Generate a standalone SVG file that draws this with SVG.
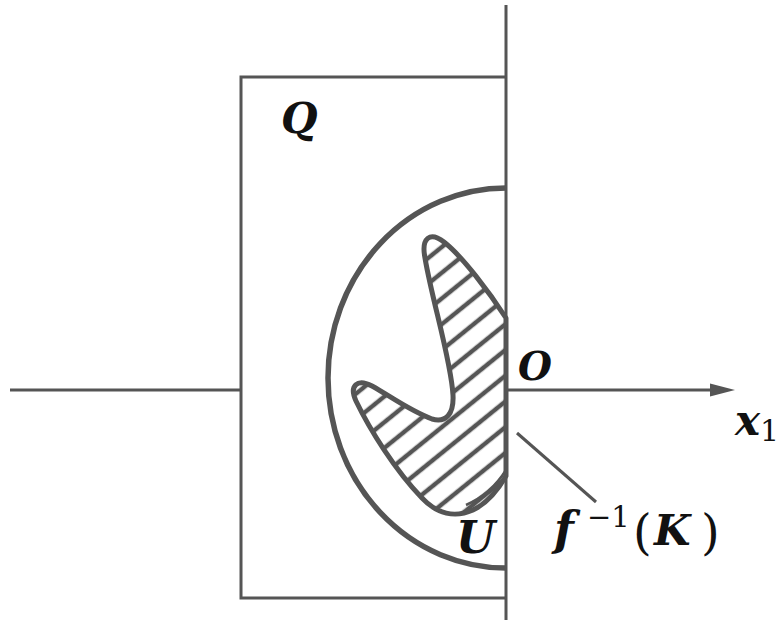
<svg xmlns="http://www.w3.org/2000/svg" width="781" height="620" viewBox="0 0 781 620">
<style>
.ln{stroke:#555;fill:none;stroke-linecap:butt}
.thin{stroke-width:3}
.thick{stroke-width:5.5}
.lbl{font-family:"DejaVu Serif","Liberation Serif",serif;font-style:italic;font-weight:bold;fill:#111}
.up{font-style:normal;font-weight:normal}
</style>
<defs>
<pattern id="hatch" patternUnits="userSpaceOnUse" width="40" height="20" patternTransform="rotate(-39)">
<line x1="0" y1="10" x2="40" y2="10" stroke="#555" stroke-width="4.5"/>
</pattern>
</defs>
<rect width="781" height="620" fill="#fff"/>
<g id="axes">
<line class="ln thin" x1="506" y1="5" x2="506" y2="620"/>
<line class="ln thin" x1="10" y1="390" x2="241" y2="390"/>
<line class="ln thin" x1="506" y1="390" x2="712" y2="390"/>
<polygon points="735,390 710,383.5 710,396.5" fill="#555"/>
</g>
<g id="Q">
<polyline class="ln thin" points="506,77 241,77 241,598 506,598"/>
<text class="lbl" x="281" y="133" font-size="42">Q</text>
</g>
<g id="U">
<path class="ln thick" d="M506,188 A178,190 0 0 0 506,568"/>
<text class="lbl" x="456" y="553" font-size="45">U</text>
</g>
<g id="K">
<path d="M506,318 C490,293 462,256 444,242 C430,231 421,238 425,258 C432,300 451,360 453,395 C454,414 446,423 432,419 C410,411 390,396 372,386 C357,378 349,386 356,401 C370,430 395,470 422,498 C437,514 455,518 473,510 C488,503 499,488 506,476 Z" fill="url(#hatch)" stroke="#555" stroke-width="5" stroke-linejoin="round"/>
<path class="ln" stroke-width="2.5" d="M466,505 C482,498 496,486 506,470"/>
<line class="ln thin" x1="517" y1="433" x2="596" y2="502"/>
<text class="lbl" font-size="42"><tspan font-size="46" x="554" y="545">f</tspan><tspan class="up" font-size="29" x="587" y="527">−1</tspan><tspan class="up" font-size="48" x="633" y="549">(</tspan><tspan x="654" y="545">K</tspan><tspan class="up" font-size="48" x="701" y="549">)</tspan></text>
</g>
<g id="labels">
<text class="lbl" x="518" y="380" font-size="39">O</text>
<text class="lbl" x="735" y="435" font-size="42">x<tspan class="up" font-size="30" dy="6">1</tspan></text>
</g>
</svg>
